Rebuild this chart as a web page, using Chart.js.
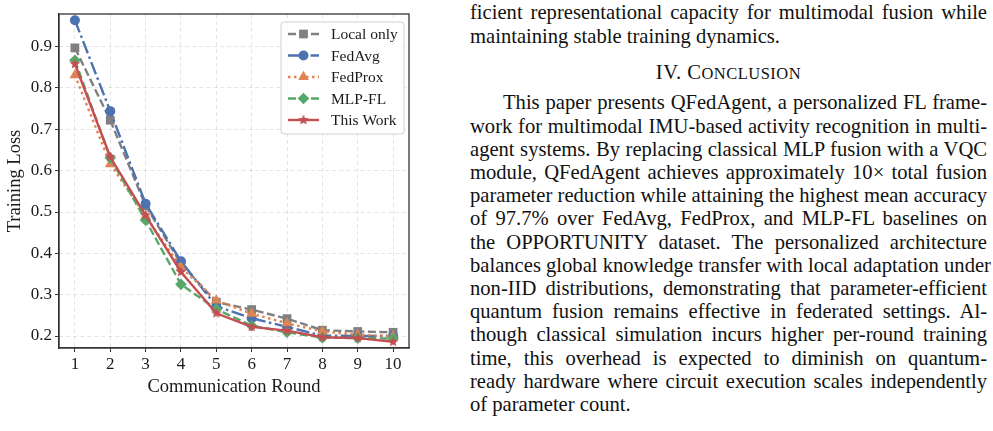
<!DOCTYPE html>
<html>
<head>
<meta charset="utf-8">
<script src="https://cdn.jsdelivr.net/npm/chart.js@4.4.1/dist/chart.umd.min.js"></script>
<style>
  html, body { margin: 0; padding: 0; background: #fff; }
  body { width: 993px; height: 431px; position: relative; overflow: hidden; }
  #plot { position: absolute; left: 0; top: 0; }
  .col { position: absolute; left: 470px; width: 517px; font-family: "Liberation Serif", serif; font-size: 20.6px; color: #111; }
  .ln { position: absolute; left: 0; width: 517px; height: 23px; line-height: 23.2px; white-space: nowrap; text-align: justify; text-align-last: justify; }
  .ln.last { text-align-last: left; }
  .ln.ind { left: 33px; width: 484px; }
  .hd { position: absolute; left: 0; width: 517px; text-align: center; line-height: 23.2px; letter-spacing: 0.5px; }
  .sc { font-size: 0.8em; }
</style>
</head>
<body>
<canvas id="plot" width="420" height="431"></canvas>

<div class="col" id="text"></div>

<script>
// data
var rounds = [1, 2, 3, 4, 5, 6, 7, 8, 9, 10];
var yTicks = [0.2, 0.3, 0.4, 0.5, 0.6, 0.7, 0.8, 0.9];

var localOnly = [0.897, 0.722, 0.515, 0.375, 0.282, 0.264, 0.242, 0.214, 0.211, 0.209];
var fedAvg    = [0.964, 0.744, 0.520, 0.381, 0.272, 0.243, 0.222, 0.201, 0.200, 0.200];
var fedProx   = [0.831, 0.616, 0.490, 0.366, 0.286, 0.254, 0.231, 0.211, 0.203, 0.200];
var mlpFL     = [0.867, 0.631, 0.480, 0.325, 0.265, 0.225, 0.209, 0.196, 0.195, 0.194];
var thisWork  = [0.858, 0.633, 0.492, 0.355, 0.255, 0.222, 0.213, 0.197, 0.195, 0.186];

var seriesNames = ["Local only", "FedAvg", "FedProx", "MLP-FL", "This Work"];

// text column on the right
var textLines = [
  ["ficient representational capacity for multimodal fusion while", ""],
  ["maintaining stable training dynamics.", "last"],
  null,
  ["This paper presents QFedAgent, a personalized FL frame-", "ind"],
  ["work for multimodal IMU-based activity recognition in multi-", ""],
  ["agent systems. By replacing classical MLP fusion with a VQC", ""],
  ["module, QFedAgent achieves approximately 10\u00d7 total fusion", ""],
  ["parameter reduction while attaining the highest mean accuracy", ""],
  ["of 97.7% over FedAvg, FedProx, and MLP-FL baselines on", ""],
  ["the OPPORTUNITY dataset. The personalized architecture", ""],
  ["balances global knowledge transfer with local adaptation under", ""],
  ["non-IID distributions, demonstrating that parameter-efficient", ""],
  ["quantum fusion remains effective in federated settings. Al-", ""],
  ["though classical simulation incurs higher per-round training", ""],
  ["time, this overhead is expected to diminish on quantum-", ""],
  ["ready hardware where circuit execution scales independently", ""],
  ["of parameter count.", "last"]
];

var col = document.getElementById('text');
var tops = [1.4, 24.6, 61.4];
for (var i = 3; i < textLines.length; i++) tops.push(91.4 + (i - 3) * 23.2);
textLines.forEach(function (l, i) {
  var d = document.createElement('div');
  if (l === null) {
    d.className = 'hd';
    d.innerHTML = 'IV. C<span class="sc">ONCLUSION</span>';
  } else {
    d.className = 'ln ' + l[1];
    d.textContent = l[0];
  }
  d.style.top = tops[i] + 'px';
  col.appendChild(d);
});

// filled star marker for "This Work"
function starImage(color, r) {
  var c = document.createElement('canvas');
  c.width = c.height = Math.ceil(r * 2 + 2);
  var g = c.getContext('2d');
  var cx = c.width / 2, cy = c.height / 2;
  g.beginPath();
  for (var k = 0; k < 10; k++) {
    var rr = k % 2 === 0 ? r : r * 0.45;
    var a = -Math.PI / 2 + k * Math.PI / 5;
    g.lineTo(cx + rr * Math.cos(a), cy + rr * Math.sin(a));
  }
  g.closePath();
  g.fillStyle = color;
  g.fill();
  return c;
}

var colors = ['#808080', '#4c72b0', '#dd8452', '#55a868', '#c44e52'];
var dashes = [[8, 3.5], [13, 3.5, 2.5, 3.5], [2.5, 3.5], [8, 3.5], []];
var styles = ['rect', 'circle', 'triangle', 'rectRot', starImage('#c44e52', 5.6)];
var radii = [6.2, 5, 6.2, 5.8, 5.6];
var values = [localOnly, fedAvg, fedProx, mlpFL, thisWork];

var datasets = seriesNames.map(function (name, i) {
  return {
    label: name,
    data: rounds.map(function (r, j) { return { x: r, y: values[i][j] }; }),
    borderColor: colors[i],
    backgroundColor: colors[i],
    borderWidth: 2.4,
    borderDash: dashes[i],
    pointStyle: styles[i],
    pointRadius: radii[i],
    pointHoverRadius: radii[i],
    pointBorderWidth: 0,
    tension: 0,
    order: 5 - i
  };
});

var serif = "'Liberation Serif', serif";

// frame around plot + matplotlib-like legend
var framePlugin = {
  id: 'frame',
  afterDraw: function (chart) {
    var ctx = chart.ctx, a = chart.chartArea;
    ctx.save();
    ctx.strokeStyle = '#333';
    ctx.lineWidth = 1.3;
    ctx.strokeRect(a.left, a.top, a.right - a.left, a.bottom - a.top);

    // legend box
    var bx = 281, by = 22, bw = 123, bh = 112;
    ctx.beginPath();
    ctx.roundRect(bx, by, bw, bh, 3);
    ctx.fillStyle = 'rgba(255,255,255,0.85)';
    ctx.fill();
    ctx.strokeStyle = '#d0d0d0';
    ctx.lineWidth = 1;
    ctx.stroke();

    ctx.font = '15.5px ' + serif;
    ctx.textBaseline = 'middle';
    seriesNames.forEach(function (name, i) {
      var y = 34 + i * 21.5;
      ctx.strokeStyle = colors[i];
      ctx.lineWidth = 2.4;
      ctx.setLineDash(dashes[i]);
      ctx.beginPath();
      ctx.moveTo(288, y);
      ctx.lineTo(319, y);
      ctx.stroke();
      ctx.setLineDash([]);
      ctx.fillStyle = colors[i];
      Chart.helpers.drawPoint(ctx, { pointStyle: styles[i], radius: radii[i], borderWidth: 0, rotation: 0 }, 303.5, y);
      ctx.fillStyle = '#1a1a1a';
      ctx.fillText(name, 331, y + 1);
    });
    ctx.restore();
  }
};

new Chart(document.getElementById('plot'), {
  type: 'line',
  data: { datasets: datasets },
  options: {
    responsive: false,
    animation: false,
    events: [],
    layout: { padding: { top: 14, right: 11, bottom: 33, left: 0 } },
    plugins: { legend: { display: false }, tooltip: { enabled: false } },
    scales: {
      x: {
        type: 'linear',
        min: 0.55,
        max: 10.45,
        afterBuildTicks: function (s) { s.ticks = rounds.map(function (v) { return { value: v }; }); },
        afterFit: function (s) { s.height = 50; },
        ticks: { font: { family: serif, size: 17 }, color: '#1a1a1a', padding: 2, maxRotation: 0 },
        grid: { color: 'rgba(0,0,0,0.1)', tickColor: '#333', tickLength: 4, tickBorderDash: [] },
        border: { display: true, color: '#333', width: 1.3, dash: [4, 3] },
        title: { display: true, text: 'Communication Round', font: { family: serif, size: 18.5 }, color: '#1a1a1a', padding: 0 }
      },
      y: {
        type: 'linear',
        min: 0.171,
        max: 0.979,
        afterBuildTicks: function (s) { s.ticks = yTicks.map(function (v) { return { value: v }; }); },
        afterFit: function (s) { s.width = 59; },
        ticks: { font: { family: serif, size: 17 }, color: '#1a1a1a', padding: 3, callback: function (v) { return v.toFixed(1); } },
        grid: { color: 'rgba(0,0,0,0.1)', tickColor: '#333', tickLength: 4, tickBorderDash: [] },
        border: { display: true, color: '#333', width: 1.3, dash: [4, 3] },
        title: { display: true, text: 'Training Loss', font: { family: serif, size: 18.5 }, color: '#1a1a1a', padding: { top: 4, bottom: 0 } }
      }
    }
  },
  plugins: [framePlugin]
});
</script>
</body>
</html>
